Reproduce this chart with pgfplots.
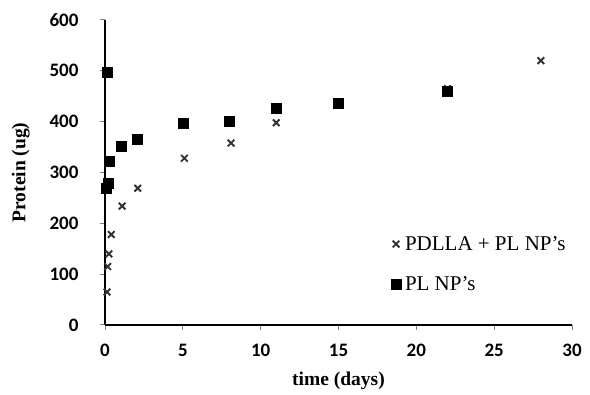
\documentclass[border=0pt]{standalone}
\usepackage{pgfplots}
\pgfplotsset{compat=1.18}
\usepackage{fontspec}
\setmainfont{Liberation Serif}
\newfontfamily\tickfont{Carlito}
\definecolor{xgray}{RGB}{50,50,50}
\begin{document}
\begin{tikzpicture}
\begin{axis}[name=ax,
  scale only axis, width=467pt, height=305pt,
  xmin=0, xmax=30, ymin=0, ymax=600,
  xtick={0,5,...,30}, ytick={0,100,...,600},
  axis x line*=bottom, axis y line*=left,
  axis line style={black, line width=1.6pt, -},
  tick style={gray, line width=1pt},
  tick align=outside, major tick length=5pt,
  ticklabel style={font=\tickfont\bfseries\fontsize{19}{20}\selectfont},
  /pgf/number format/assume math mode=true,
  xticklabel style={yshift=-11pt},
  yticklabel style={xshift=-18pt},
  xlabel={\bfseries time (days)},
  ylabel={\bfseries Protein (ug)},
  label style={font=\fontsize{19.5}{22}\selectfont},
  xlabel style={yshift=-8pt},
  ylabel style={yshift=13pt},
  clip=false,
  legend style={draw=none, fill=none, at={(0.612,0.10)}, anchor=south west,
    font=\fontsize{21}{22}\selectfont, row sep=21pt, inner sep=0pt,
    /tikz/every odd column/.append style={column sep=2pt}},
  legend cell align=left,
]
\addplot[only marks, mark=x, mark size=4.7pt, xgray, line width=1.9pt]
  coordinates {(0.13,65) (0.17,115) (0.25,140) (0.4,178) (1.1,234) (2.1,269)
   (5.1,328) (8.1,358) (11,398) (22,465) (28,520)};
\addlegendentry{PDLLA + PL NP's}
\addplot[only marks, mark=square*, mark size=5pt, black]
  coordinates {(0.12,497) (0.1,270) (0.2,278) (0.3,323) (1.05,351) (2.05,365)
   (5,397) (8,401) (11,427) (15,437) (22,460)};
\addlegendentry{PL NP's}
\end{axis}
\pgfresetboundingbox
\path ([shift={(-105pt,-70pt)}]ax.south west) rectangle ([shift={(18pt,20pt)}]ax.north east);
\end{tikzpicture}
\end{document}
